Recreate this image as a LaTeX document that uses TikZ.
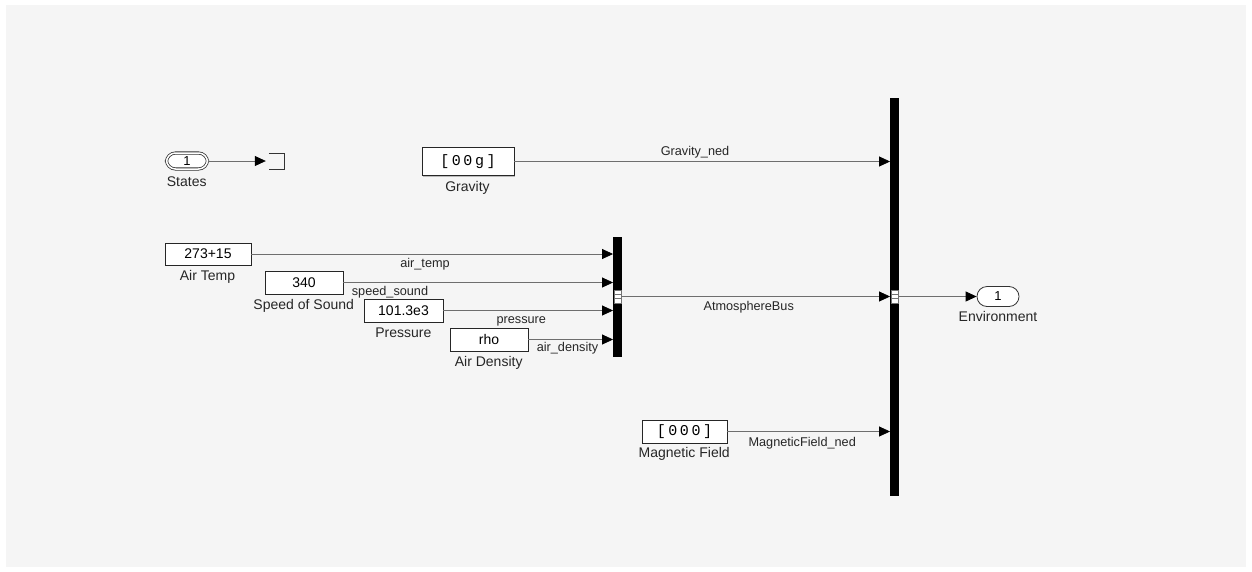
\documentclass[tikz,border=0pt]{standalone}
\usepackage{fontspec}
\setmainfont{Liberation Sans}
\newfontfamily\vecfont{Liberation Mono}
\usetikzlibrary{arrows.meta,shadows}
\definecolor{panel}{HTML}{F5F5F5}
\definecolor{wire}{HTML}{6E6E6E}
\newcommand\blkfont{\fontsize{14}{16}\selectfont}
\newcommand\sigfont{\fontsize{12.7}{14}\selectfont}
\newcommand\vecsp{\hspace{2.6pt}}
\begin{document}
\begin{tikzpicture}[x=1pt,y=-1pt,
  blk/.style={draw=black!85, line width=0.9pt, fill=white, inner sep=0pt,
    font=\blkfont, drop shadow={shadow xshift=1.4pt,shadow yshift=-1.4pt,fill=black!50,opacity=0.5}},
  busbar/.style={fill=black, draw=none, inner sep=0pt, minimum width=8.5pt},
  busmark/.style={draw=black!55, line width=0.5pt, fill=white, inner sep=0pt, minimum width=6.5pt, minimum height=12.5pt},
  portoval/.style={draw=black!80, fill=white, line width=0.8pt, inner sep=0pt, rounded corners=9pt, font=\fontsize{13}{15}\selectfont},
  sig/.style={draw=wire, line width=0.8pt, -{Triangle[length=11pt,width=10pt,color=black]}},
  blabel/.style={anchor=base, inner sep=0pt, font=\blkfont, text=black!85},
  slabel/.style={anchor=base, inner sep=0pt, font=\sigfont, text=black!85}]
% background
\fill[white] (0,0) rectangle (1252,571);
\fill[panel] (6,5) rectangle (1246,567);
\useasboundingbox (0,0) rectangle (1252,571);

% bus bars
\node[busbar, minimum height=120pt] (bus1) at (617.5,296.5) {};
\node[busbar, minimum height=398pt] (bus2) at (894.5,296.5) {};
\node[busmark] (bm1) at (bus1.center) {};
\draw[black!55, line width=0.5pt] ([yshift=2.1pt]bm1.west) -- ([yshift=2.1pt]bm1.east)
  ([yshift=-2.1pt]bm1.west) -- ([yshift=-2.1pt]bm1.east);
\node[busmark] (bm2) at (bus2.center) {};
\draw[black!55, line width=0.5pt] ([yshift=2.1pt]bm2.west) -- ([yshift=2.1pt]bm2.east)
  ([yshift=-2.1pt]bm2.west) -- ([yshift=-2.1pt]bm2.east);

% States inport and terminator
\node[portoval, double, double distance=1.5pt, minimum width=41pt, minimum height=16pt] (states) at (187,161) {1};
\node[blabel] (statesl) at (186.7,186) {States};
\node[inner sep=0pt, minimum width=18pt, minimum height=15pt] (term) at (275,161.5) {};
\draw[black!80, line width=1pt] ([xshift=3pt]term.north west) -- (term.north east) -- (term.south east) -- ([xshift=3pt]term.south west);
\draw[sig] (states.east) -- (states.east -| term.west);

% Gravity
\node[blk, minimum width=92pt, minimum height=28pt] (grav) at (468,161.5)
  {\vecfont\fontsize{15}{17}\selectfont [\vecsp0\vecsp0\vecsp g\vecsp]};
\node[blabel] (gravl) at (467.5,191) {Gravity};
\draw[sig] (grav.east) -- (grav.east -| bus2.west);
\node[slabel] (gravs) at (695,155) {Gravity\_ned};

% Atmosphere constants
\node[blk, minimum width=86pt, minimum height=22pt] (airt) at (208,254) {273+15};
\node[blabel] (airtl) at (207.5,280) {Air Temp};
\draw[sig] (airt.east) -- (airt.east -| bus1.west);
\node[slabel] (airts) at (425,267) {air\_temp};

\node[blk, minimum width=78pt, minimum height=23pt] (sos) at (304,282.5) {340};
\node[blabel] (sosl) at (303.7,309) {Speed of Sound};
\draw[sig] (sos.east) -- (sos.east -| bus1.west);
\node[slabel] (soss) at (390,295) {speed\_sound};

\node[blk, minimum width=79pt, minimum height=23pt] (pres) at (403.5,310.5) {101.3e3};
\node[blabel] (presl) at (403.3,337.3) {Pressure};
\draw[sig] (pres.east) -- (pres.east -| bus1.west);
\node[slabel] (press) at (521.3,323.3) {pressure};

\node[blk, minimum width=78pt, minimum height=23pt] (rho) at (489,339.5) {rho};
\node[blabel] (rhol) at (488.7,366) {Air Density};
\draw[sig] (rho.east) -- (rho.east -| bus1.west);
\node[slabel] (rhos) at (567.5,351.7) {air\_density};

% Atmosphere bus
\draw[sig] (bus1.east) -- (bus1.east -| bus2.west);
\node[slabel] (atms) at (748.7,310.3) {AtmosphereBus};

% Magnetic field
\node[blk, minimum width=85pt, minimum height=23pt] (mag) at (684.5,431.5)
  {\vecfont\fontsize{15}{17}\selectfont [\vecsp0\vecsp0\vecsp0\vecsp]};
\node[blabel] (magl) at (684.2,457.3) {Magnetic Field};
\draw[sig] (mag.east) -- (mag.east -| bus2.west);
\node[slabel] (mags) at (802.2,446) {MagneticField\_ned};

% Environment outport
\node[portoval, rounded corners=10pt, minimum width=42pt, minimum height=20pt] (env) at (998,296.5) {1};
\node[blabel] (envl) at (998,321.7) {Environment};
\draw[sig] (bus2.east) -- (env.west);
\end{tikzpicture}
\end{document}
